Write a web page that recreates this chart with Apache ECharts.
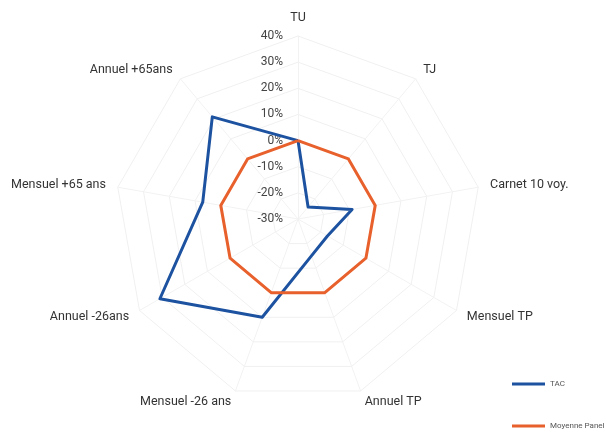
<!DOCTYPE html>
<html><head><meta charset="utf-8">
<script src="https://cdn.jsdelivr.net/npm/echarts@6/dist/echarts.min.js"></script>
<style>html,body{margin:0;padding:0;background:#fff}#c{width:607px;height:432px}</style>
</head><body><div id="c"></div>
<script>
const categories = ['TU','TJ','Carnet 10 voy.','Mensuel TP','Annuel TP','Mensuel -26 ans','Annuel -26ans','Mensuel +65 ans','Annuel +65ans'];
const tacValues = [0, -24, -9, -17, -15, 10, 31, 7, 21];
const panelValues = [0, 0, 0, 0, 0, 0, 0, 0, 0];
const seriesNames = ['TAC','Moyenne Panel'];
const axisMin = -30, axisMax = 40, axisStep = 10;

// ECharts radar runs counter-clockwise; reorder so categories go clockwise
const order = [0].concat(categories.map((_, i) => i).slice(1).reverse());
const cw = arr => order.map(i => arr[i]);

const chart = echarts.init(document.getElementById('c'));
const font = 'Roboto, "DejaVu Sans", sans-serif';
const legendBase = {
  orient: 'vertical', left: 512, padding: 0,
  itemWidth: 33, itemHeight: 3, icon: 'rect', itemGap: 2,
  textStyle: { fontSize: 8, color: '#555', fontFamily: font }
};
chart.setOption({
  animation: false,
  legend: [
    Object.assign({}, legendBase, { top: 380, data: [seriesNames[0]] }),
    Object.assign({}, legendBase, { top: 422, data: [seriesNames[1]] })
  ],
  radar: {
    center: [298, 219], radius: 183,
    startAngle: 90,
    splitNumber: (axisMax - axisMin) / axisStep,
    shape: 'polygon',
    indicator: cw(categories).map((n, i) => ({ name: n, min: axisMin, max: axisMax, axisLabel: { show: i === 0 } })),
    axisName: { color: '#333', fontSize: 12.5, fontFamily: font },
    nameGap: 12,
    axisLine: { lineStyle: { color: '#f2f2f2', width: 1 } },
    splitLine: { lineStyle: { color: '#f0f0f0', width: 1 } },
    splitArea: { show: false },
    axisLabel: {
      show: true, color: '#444', fontSize: 12, fontFamily: font, margin: 15,
      formatter: v => v + '%'
    }
  },
  series: [{
    type: 'radar', symbol: 'none',
    data: [
      { name: seriesNames[0], value: cw(tacValues), lineStyle: { color: '#1c52a0', width: 3 }, itemStyle: { color: '#1c52a0' } },
      { name: seriesNames[1], value: cw(panelValues), lineStyle: { color: '#e8602c', width: 3 }, itemStyle: { color: '#e8602c' } }
    ]
  }]
});
</script></body></html>
